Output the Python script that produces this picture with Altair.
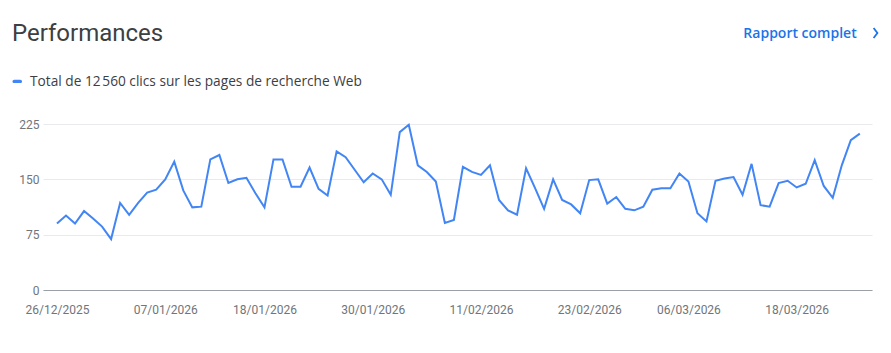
import altair as alt
import pandas as pd

# ---- data ----
start_date = "2025-12-26"
clicks = [
    90, 101, 90, 107, 97, 86, 69, 118, 102, 118,
    132, 136, 150, 174, 135, 112, 113, 177, 183, 145,
    150, 152, 131, 112, 177, 177, 140, 140, 166, 137,
    128, 188, 180, 163, 146, 158, 150, 129, 214, 224,
    169, 160, 147, 91, 95, 167, 160, 156, 169, 122,
    108, 102, 165, 138, 110, 150, 122, 116, 104, 149,
    150, 117, 126, 110, 108, 113, 136, 138, 138, 158,
    147, 104, 93, 148, 151, 153, 129, 171, 115, 113,
    145, 148, 139, 144, 176, 141, 125, 169, 203, 212,
]
y_ticks = [0, 75, 150, 225]
x_tick_labels = ["26/12/2025", "07/01/2026", "18/01/2026", "30/01/2026",
                 "11/02/2026", "23/02/2026", "06/03/2026", "18/03/2026"]
title_text = "Performances"
link_text = "Rapport complet"
legend_text = "Total de 12\u202f560 clics sur les pages de recherche Web"

# ---- tables ----
dates = pd.date_range(start_date, periods=len(clicks), freq="D")
df = pd.DataFrame({"day": range(len(clicks)), "clics": clicks})
x_tick_days = [int((pd.to_datetime(l, format="%d/%m/%Y") - dates[0]).days) for l in x_tick_labels]
y0, m0, d0 = dates[0].year, dates[0].month, dates[0].day
label_expr = f"timeFormat(datetime({y0}, {m0 - 1}, {d0} + datum.value), '%d/%m/%Y')"

FONT = "Roboto"
HFONT = "Open Sans"
BLUE_LINE = "#4285f4"
BLUE_LINK = "#1a73e8"
GRAY_LABEL = "#70757a"

line = alt.Chart(df).mark_line(color=BLUE_LINE, strokeWidth=2).encode(
    x=alt.X("day:Q",
            scale=alt.Scale(domain=[-1.55, 90.35], nice=False, zero=False),
            axis=alt.Axis(values=x_tick_days, labelExpr=label_expr, grid=False, ticks=False,
                          domain=True, domainColor="#9aa0a6", domainWidth=1,
                          labelPadding=14, labelFontSize=12, labelColor=GRAY_LABEL,
                          labelFont=FONT, labelFlush=False, labelOverlap=False, title=None)),
    y=alt.Y("clics:Q",
            scale=alt.Scale(domain=[0, 225], nice=False),
            axis=alt.Axis(values=y_ticks, grid=True, gridColor="#e8eaed", domain=False,
                          ticks=False, labelPadding=4, labelFontSize=12, labelColor=GRAY_LABEL,
                          labelFont=FONT, title=None)),
)

title = alt.Chart(pd.DataFrame({"t": [title_text]})).mark_text(
    align="left", baseline="alphabetic", fontSize=24, font=FONT, color="#3c4043").encode(
    text="t:N", x=alt.value(-31), y=alt.value(-83.3))

link = alt.Chart(pd.DataFrame({"t": [link_text]})).mark_text(
    align="right", baseline="alphabetic", fontSize=14, fontWeight=600, font=HFONT,
    color=BLUE_LINK).encode(text="t:N", x=alt.value(813.7), y=alt.value(-86.3))

chevron = alt.Chart(pd.DataFrame({"t": [">"]})).mark_point(
    shape="M -0.38 -1 L 0.38 0 L -0.38 1", filled=False, strokeWidth=1.8, size=100,
    color=BLUE_LINK, opacity=1).encode(x=alt.value(832.5), y=alt.value(-91))

pill = alt.Chart(pd.DataFrame({"t": ["clics"]})).mark_rect(
    cornerRadius=2, color=BLUE_LINE).encode(
    x=alt.value(-30.5), x2=alt.value(-21), y=alt.value(-44.3), y2=alt.value(-40.9))

legend = alt.Chart(pd.DataFrame({"t": [legend_text]})).mark_text(
    align="left", baseline="alphabetic", fontSize=13.7, font=HFONT, color="#3c4043").encode(
    text="t:N", x=alt.value(-13), y=alt.value(-38.3))

chart = alt.layer(line, title, link, chevron, pill, legend).properties(
    width=829, height=166,
    autosize=alt.AutoSizeParams(type="none"),
    padding={"left": 43, "top": 124, "right": 19, "bottom": 63},
    background="white",
).configure_view(stroke=None)

chart.save("out.html", embed_options={"renderer": "svg", "actions": False})
